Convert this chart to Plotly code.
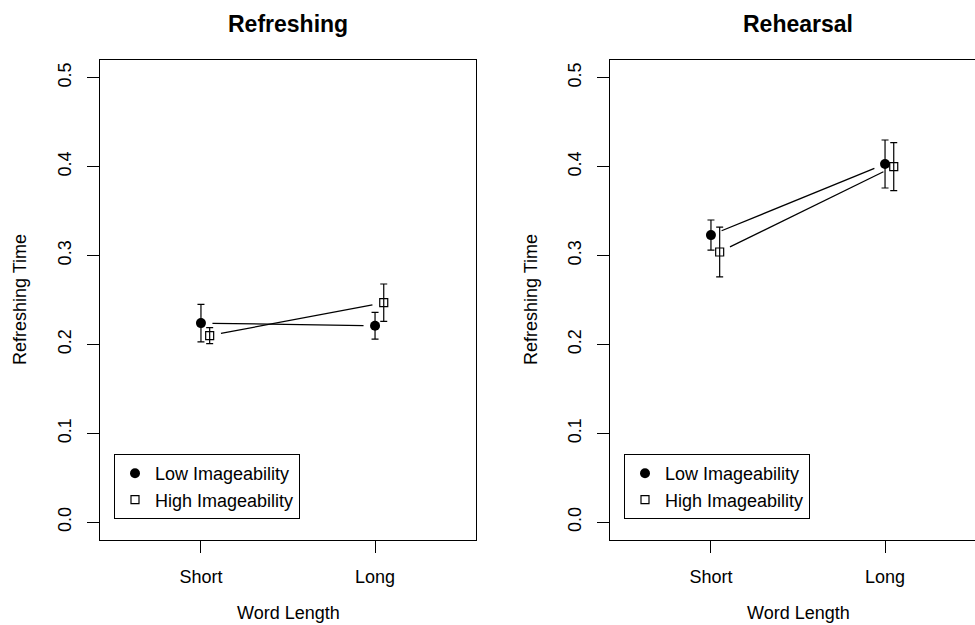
import math
import plotly.graph_objects as go

# ---- data ----
categories = ["Short", "Long"]
cat_pos = [1, 2]
high_offset = 0.05

panel_titles = ["Refreshing", "Rehearsal"]

refresh_low = [0.224, 0.221]
refresh_low_err = [0.021, 0.015]
refresh_high = [0.210, 0.247]
refresh_high_err = [0.009, 0.021]

rehearse_low = [0.323, 0.403]
rehearse_low_err = [0.017, 0.027]
rehearse_high = [0.304, 0.400]
rehearse_high_err = [0.028, 0.027]

y_ticks = [0.0, 0.1, 0.2, 0.3, 0.4, 0.5]
y_ticktext = ["0.0", "0.1", "0.2", "0.3", "0.4", "0.5"]

FONT = "Arial, Liberation Sans, sans-serif"
W, H = 975, 625

# layout in pixels
box_top, box_bot = 60, 540
left_l, left_r = 100, 476
right_l, right_r = 610, 986
xrange_full = [0.42, 2.58]
yrange = [-0.02, 0.52]
px_per_x = (left_r - left_l) / (xrange_full[1] - xrange_full[0])
px_per_y = (box_bot - box_top) / (yrange[1] - yrange[0])

fig = go.Figure()


def gapped(x0, y0, x1, y1, gap=11.5):
    dxp = (x1 - x0) * px_per_x
    dyp = (y1 - y0) * px_per_y
    L = math.hypot(dxp, dyp)
    t = gap / L
    return ([x0 + t * (x1 - x0), x1 - t * (x1 - x0)],
            [y0 + t * (y1 - y0), y1 - t * (y1 - y0)])


panels = [
    (refresh_low, refresh_low_err, refresh_high, refresh_high_err, "x", "y", "legend"),
    (rehearse_low, rehearse_low_err, rehearse_high, rehearse_high_err, "x2", "y2", "legend2"),
]

for low, lowe, high, highe, xa, ya, lg in panels:
    xs_low = list(cat_pos)
    xs_high = [p + high_offset for p in cat_pos]
    for xs, ys in ((xs_low, low), (xs_high, high)):
        lx, ly = gapped(xs[0], ys[0], xs[1], ys[1])
        fig.add_trace(go.Scatter(x=lx, y=ly, mode="lines", xaxis=xa, yaxis=ya,
                                 line=dict(color="black", width=1.3),
                                 showlegend=False, hoverinfo="skip"))
    fig.add_trace(go.Scatter(
        x=xs_low, y=low, mode="markers", xaxis=xa, yaxis=ya, name="Low Imageability",
        legend=lg,
        marker=dict(symbol="circle", size=10, color="black"),
        error_y=dict(type="data", array=lowe, color="black", thickness=1.2, width=3.5)))
    fig.add_trace(go.Scatter(
        x=xs_high, y=high, mode="markers", xaxis=xa, yaxis=ya, name="High Imageability",
        legend=lg,
        marker=dict(symbol="square-open", size=8, color="black", line=dict(width=1.2)),
        error_y=dict(type="data", array=highe, color="black", thickness=1.2, width=3.5)))

dom_y = [(H - box_bot) / H, (H - box_top) / H]

common_x = dict(tickmode="array", tickvals=cat_pos, ticktext=categories,
                ticks="outside", ticklen=12, tickcolor="black", tickwidth=1,
                showline=True, linecolor="black", linewidth=1, showgrid=False,
                zeroline=False, tickfont=dict(family=FONT, size=18, color="black"),
                ticklabelstandoff=8)
common_y = dict(tickmode="array", tickvals=y_ticks, ticktext=y_ticktext,
                range=yrange, ticks="outside", ticklen=12, tickcolor="black", tickwidth=1,
                showline=True, linecolor="black", linewidth=1, showgrid=False,
                zeroline=False, tickangle=-90,
                tickfont=dict(family=FONT, size=18, color="black"),
                ticklabelstandoff=9)

right_range = [xrange_full[0], xrange_full[0] + (W - right_l) / px_per_x]

legend_common = dict(yanchor="top", xanchor="left", bordercolor="black", borderwidth=1,
                     bgcolor="white", font=dict(family=FONT, size=18, color="black"),
                     tracegroupgap=0, itemwidth=30)

fig.update_layout(
    width=W, height=H, margin=dict(l=0, r=0, t=0, b=0),
    paper_bgcolor="white", plot_bgcolor="white",
    font=dict(family=FONT, size=18, color="black"),
    xaxis=dict(domain=[left_l / W, left_r / W], range=xrange_full, anchor="y",
               mirror=True, **common_x),
    yaxis=dict(domain=dom_y, anchor="x", mirror=True, **common_y),
    xaxis2=dict(domain=[right_l / W, 1.0], range=right_range, anchor="y2",
                mirror=True, **common_x),
    yaxis2=dict(domain=dom_y, anchor="x2", mirror=False, **common_y),
    legend=dict(x=114 / W, y=(H - 454) / H, **legend_common),
    legend2=dict(x=624 / W, y=(H - 454) / H, **legend_common),
    showlegend=True,
)

annots = []
for title, cx in ((panel_titles[0], (left_l + left_r) / 2), (panel_titles[1], (right_l + right_r) / 2)):
    annots.append(dict(text="<b>" + title + "</b>", x=cx / W, y=(H - 24) / H,
                       xref="paper", yref="paper", showarrow=False,
                       xanchor="center", yanchor="middle",
                       font=dict(family=FONT, size=23, color="black")))
    annots.append(dict(text="Word Length", x=cx / W, y=(H - 613) / H,
                       xref="paper", yref="paper", showarrow=False,
                       xanchor="center", yanchor="middle",
                       font=dict(family=FONT, size=18, color="black")))
for lx in (20, 531):
    annots.append(dict(text="Refreshing Time", x=lx / W, y=(H - 300) / H,
                       xref="paper", yref="paper", showarrow=False, textangle=-90,
                       xanchor="center", yanchor="middle",
                       font=dict(family=FONT, size=18, color="black")))
fig.update_layout(annotations=annots)

fig.write_html("out.html")
